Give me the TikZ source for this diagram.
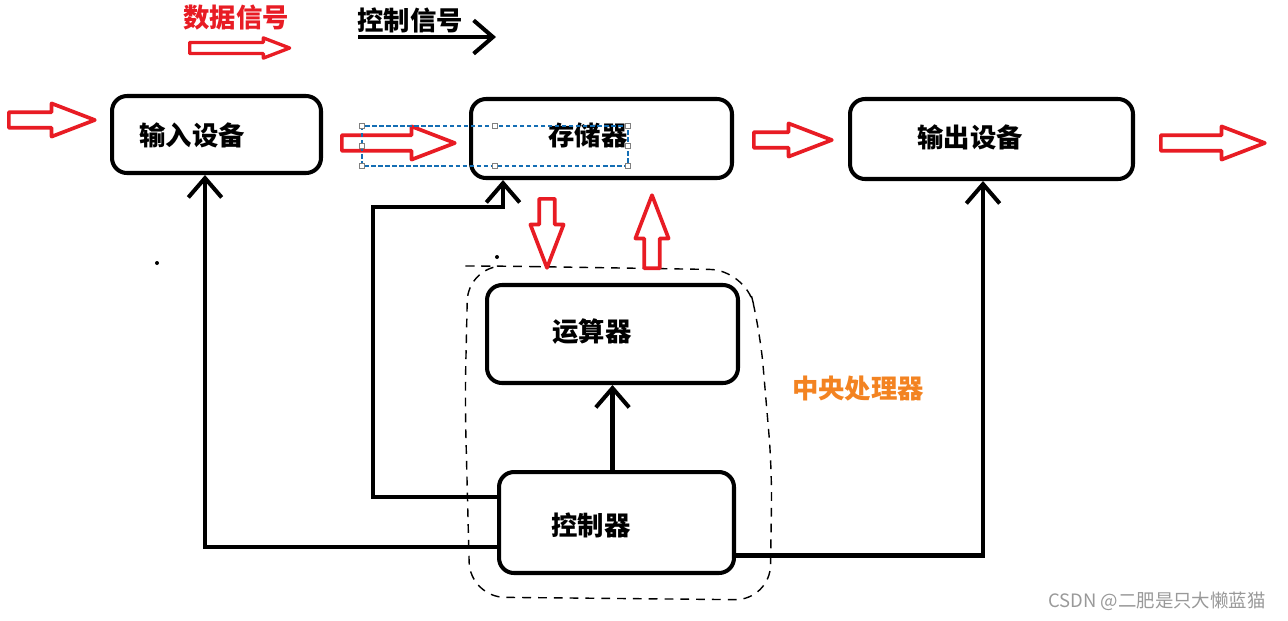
\documentclass[tikz,border=0pt]{standalone}
\usepackage{fontspec}
\newfontfamily\cjk{Noto Sans CJK SC}
\usetikzlibrary{arrows.meta,shapes.arrows}
\definecolor{sigred}{RGB}{232,28,36}
\definecolor{cpuorange}{RGB}{243,131,33}
\definecolor{selblue}{RGB}{20,110,180}
\begin{document}
\begin{tikzpicture}[x=0.02cm,y=-0.02cm,
  every node/.style={font=\cjk\bfseries\fontsize{15}{18}\selectfont},
  unit/.style={draw,line width=2.3pt,rounded corners=0.3cm,inner sep=0pt},
  ctrlline/.style={line width=2.3pt,-{Straight Barb[length=11pt,width=19pt]}},
  dataarr/.style={single arrow,draw=sigred,line width=2.1pt,line join=round,anchor=tail,
    inner sep=3.4pt,single arrow head extend=5pt,single arrow tip angle=42}]
\useasboundingbox (0,0) rectangle (1288,620);
% legend
\node[text=sigred] (legD) at (236,18) {数据信号};
\node[dataarr,minimum height=2.0cm,inner sep=2.2pt,single arrow head extend=2.6pt,line width=1.9pt] (legA) at (188,48) {};
\node (legC) at (410,20) {控制信号};
\coordinate (legS) at (358,37);
\coordinate (legE) at (496,37);
\draw[ctrlline] (legS) -- (legE);
% units
\node[unit,minimum width=4.18cm,minimum height=1.54cm] (in) at (216.5,134.5) {};
\node[unit,minimum width=5.22cm,minimum height=1.58cm] (mem) at (601.5,138.5) {};
\node[unit,minimum width=5.66cm,minimum height=1.60cm] (out) at (991.5,139) {};
\node[unit,minimum width=5.02cm,minimum height=1.96cm] (alu) at (612.5,334) {};
\node[unit,minimum width=4.70cm,minimum height=2.02cm] (ctrl) at (616.5,522.5) {};
\node (inT) at (192,135) {输入设备};
\node (memT) at (588,135) {存储器};
\node (outT) at (970,137) {输出设备};
\node (aluT) at (592,332) {运算器};
\node (ctrlT) at (591,525) {控制器};
% cpu
\draw[line width=0.8pt,dash pattern=on 5pt off 4pt,rounded corners=0.7cm]
  (497,266) -- (745,270) -- (760,330) -- (772,470) -- (770,600) -- (470,597) -- (465,400) -- (468,266) -- cycle;
\node[text=cpuorange] (cpuT) at (858,389) {中央处理器};
% data signals
\node[dataarr,minimum height=1.72cm] (d1) at (7,120) {};
\node[dataarr,minimum height=2.26cm] (d2) at (340,143) {};
\node[dataarr,minimum height=1.56cm] (d3) at (752,140) {};
\node[dataarr,minimum height=2.08cm] (d4) at (1159,143) {};
\node[dataarr,minimum height=1.38cm,shape border rotate=270] (d5) at (547,197) {};
\node[dataarr,minimum height=1.46cm,shape border rotate=90] (d6) at (652,270) {};
% control signals
\coordinate (bend) at (373,207);
\draw[ctrlline] ([yshift=-0.49cm]ctrl.west) -| ([xshift=-0.23cm]in.south);
\draw[ctrlline] ([yshift=0.51cm]ctrl.west) -| (bend) -| ([xshift=-1.97cm]mem.south);
\draw[ctrlline] (alu.south |- ctrl.north) -- (alu.south);
\draw[ctrlline] ([yshift=-0.66cm]ctrl.east) -| ([xshift=-0.17cm]out.south);
% selection
\draw[selblue,line width=0.6pt,dash pattern=on 2.5pt off 1.5pt] (362,126) rectangle (628,166);
\foreach \hx/\hy in {362/126,495/126,628/126,362/146,628/146,362/166,495/166,628/166}
  \draw[gray,fill=white,line width=0.5pt] (\hx-2.5,\hy-2.5) rectangle (\hx+2.5,\hy+2.5);
\fill (157,263) circle (2);
\fill (497,257) circle (2);
\node[font=\cjk\fontsize{10.5}{12}\selectfont,text=gray!80] (wm) at (1157,601) {CSDN @二肥是只大懒蓝猫};
\end{tikzpicture}
\end{document}
